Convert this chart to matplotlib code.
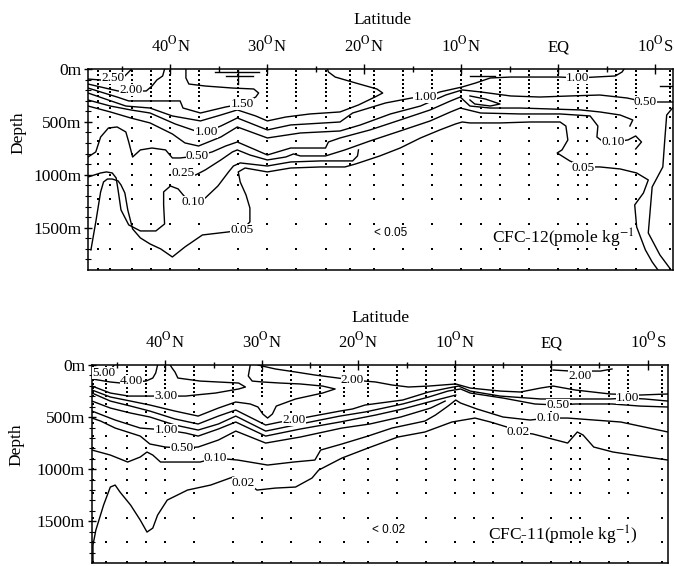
import matplotlib
matplotlib.use('Agg')
import matplotlib.pyplot as plt

plt.rcParams['font.family'] = ['Liberation Serif', 'DejaVu Serif']
plt.rcParams['mathtext.fontset'] = 'stix'

# osie: szerokosc geograficzna (N dodatnie) i glebokosc w metrach
lat_ticks = [40, 30, 20, 10, 0, -10]
lat_labels = [r'40$^{\rm O}$N', r'30$^{\rm O}$N', r'20$^{\rm O}$N', r'10$^{\rm O}$N', 'EQ', r'10$^{\rm O}$S']
lat_minor = [45, 35, 25, 15, 5, -5]
depth_ticks = [0, 500, 1000, 1500]
depth_labels = ['0m', '500m', '1000m', '1500m']

# stacje i glebokosci probek
station_lat = [47.5, 46.2, 44.0, 42.0, 40.0, 37.0, 33.0, 30.0, 27.0, 24.0, 21.5, 19.0,
               16.0, 13.0, 10.0, 8.0, 6.0, 3.0, 0.0, -2.0, -3.0, -6.0, -8.0, -11.5]
sample_depth = [20, 60, 100, 140, 180, 220, 260, 300, 370, 450, 560, 680, 800,
                900, 1000, 1100, 1230, 1470, 1700, 1890]

# ---- CFC-12 (gorny panel): izolinie ----
c12_250_lat = [48.5, 47.2, 45.9, 44.7, 44.0]
c12_250_dep = [95, 104, 95, 66, 0]
c12_200_lat = [48.5, 47.2, 45.4, 44.1, 42.5, 41.9, 41.4, 40.8, 40.6]
c12_200_dep = [142, 170, 208, 208, 208, 161, 104, 66, 0]
c12_150_lat = [48.5, 47.2, 45.5, 44.3, 39.0, 38.7, 36.9, 34.3, 32.6, 31.2, 30.9, 31.4, 33.6, 36.4, 38.1, 38.4, 38.4]
c12_150_dep = [180, 217, 265, 302, 302, 369, 416, 359, 331, 265, 227, 189, 180, 161, 142, 85, 0]
c12_125_lat = [48.5, 46.7, 44.6, 42.1, 39.8, 36.9, 34.8, 33.1, 31.2, 30.0, 28.1, 25.6, 22.5, 20.6, 18.9, 18.1, 18.7, 20.9, 23.0, 23.7, 23.8]
c12_125_dep = [227, 284, 350, 369, 444, 491, 435, 387, 444, 491, 454, 425, 406, 340, 265, 227, 189, 132, 76, 28, 0]
c12_100_lat = [48.5, 46.2, 44.1, 42.1, 39.5, 37.4, 36.3, 34.8, 33.1, 30.0, 27.6, 22.5, 21.2, 17.8, 15.1, 13.7,
               12.2, 9.9, 8.5, 7.0, 4.9, 1.9, -0.2, -2.0, -3.8, -5.9, -6.6, -6.8]
c12_100_dep = [293, 350, 387, 416, 520, 586, 595, 539, 463, 576, 529, 501, 416, 321, 274, 265,
               217, 170, 132, 85, 76, 76, 76, 85, 76, 66, 28, 0]
c12_075_lat = [48.5, 46.2, 44.1, 42.1, 39.8, 38.5, 37.1, 34.8, 33.1, 30.0, 26.6, 22.5, 20.4, 17.3, 14.2, 11.6,
               9.9, 8.0, 4.9, 1.9, -1.2, -4.3, -7.1, -9.0, -11.8]
c12_075_dep = [350, 406, 463, 510, 614, 699, 728, 643, 548, 652, 605, 586, 529, 425, 350, 246,
               198, 217, 255, 265, 255, 246, 274, 312, 312]
c12_tongue_lat = [9.1, 7.5, 6.0, 7.0, 8.6, 9.1]
c12_tongue_dep = [255, 284, 331, 350, 331, 293]
c12_050_lat = [48.5, 47.7, 47.2, 46.4, 45.5, 44.6, 44.3, 43.9, 43.1, 41.9, 40.5, 39.8, 39.0, 37.2, 35.7, 34.3,
               33.1, 31.2, 30.0, 27.6, 24.0, 23.7, 22.5, 19.4, 16.3, 13.2, 11.1, 10.1, 9.1, 7.0, 3.9, 0.8,
               -2.3, -4.3, -6.4, -7.7, -7.4]
c12_050_dep = [832, 784, 643, 558, 548, 595, 690, 832, 765, 747, 765, 841, 841, 822, 784, 728,
               690, 765, 813, 747, 747, 690, 652, 576, 482, 387, 302, 265, 350, 369, 369, 378,
               387, 406, 435, 482, 539]
c12_025_lat = [39.7, 38.7, 37.4, 36.4, 34.8, 33.6, 33.1, 31.8, 30.0, 28.1, 27.3, 26.6, 24.0, 22.0, 19.4, 16.3,
               13.2, 11.1, 10.1, 8.0, 3.9, -0.2, -3.3, -4.1, -4.0, -4.8, -5.7, -7.2, -8.0, -8.6, -8.0]
c12_025_dep = [973, 983, 1002, 954, 860, 784, 765, 813, 860, 832, 803, 822, 822, 765, 680, 586,
               491, 406, 369, 416, 425, 425, 444, 539, 643, 699, 690, 671, 633, 690, 756]
c12_010_lat = [48.5, 47.2, 46.6, 46.0, 45.6, 45.4, 45.1, 44.3, 43.1, 41.5, 40.6, 40.7, 40.7, 40.0, 39.2, 38.6,
               37.7, 36.4, 35.1, 34.0, 33.5, 32.8, 30.0, 27.6, 24.5, 22.5, 21.2, 20.7, 20.6]
c12_010_dep = [1021, 983, 973, 983, 1030, 1143, 1332, 1474, 1531, 1531, 1465, 1285, 1162, 1106, 1134, 1200,
               1257, 1219, 1106, 973, 917, 888, 917, 879, 869, 869, 869, 822, 765]
c12_005_lat = [48.2, 47.7, 47.2, 46.9, 46.5, 46.0, 45.4, 45.1, 44.7, 44.4, 43.9, 43.1, 42.1, 41.0, 39.8, 38.5,
               36.7, 34.0, 32.6, 31.8, 31.8, 32.2, 32.8, 33.0, 32.3, 30.0, 27.6, 24.5, 22.0, 20.9, 18.4, 16.3,
               14.2, 12.2, 10.6, 9.9, 9.1, 6.0, 2.9, -0.2, -0.8, -1.0, -0.4, 0.1, -1.2, -2.6,
               -4.3, -6.4, -8.1, -9.3, -8.8, -7.9, -8.1, -9.0, -9.7, -10.3]
c12_005_dep = [1710, 1446, 1162, 1068, 1040, 1040, 1058, 1096, 1172, 1332, 1512, 1597, 1654, 1701, 1777, 1682,
               1569, 1540, 1521, 1446, 1314, 1191, 1068, 973, 936, 973, 936, 926, 926, 898, 822, 747,
               652, 576, 520, 501, 510, 510, 501, 501, 539, 671, 765, 794, 869, 926,
               926, 945, 983, 1049, 1172, 1285, 1493, 1710, 1824, 1900]
c12_south_lat = [-11.8, -11.2, -11.0, -10.8, -9.7, -9.3, -10.5, -11.5]
c12_south_dep = [369, 435, 671, 926, 1115, 1550, 1758, 1881]
c12_edge_lat = [-10.5, -11.8]
c12_edge_dep = [161, 161]
c12_mark1_lat = [35.4, 30.9]
c12_mark1_dep = [28, 28]
c12_mark2_lat = [34.3, 31.5]
c12_mark2_dep = [66, 66]
c12_mark3_lat = [33.0, 33.0]
c12_mark3_dep = [9, 142]
c12_mark4_lat = [9.1, 6.5]
c12_mark4_dep = [66, 66]

c12_label_text = ['2.50', '2.00', '1.50', '1.00', '1.00', '1.00', '0.50', '0.50', '0.25', '0.10', '0.10', '0.05', '0.05']
c12_label_lat = [45.9, 44.1, 32.6, 36.3, 13.7, -2.0, 37.2, -9.0, 38.7, 37.7, -5.7, 32.6, -2.6]
c12_label_dep = [85, 200, 331, 595, 265, 85, 822, 312, 983, 1257, 690, 1521, 936]

# ---- CFC-11 (dolny panel) ----
c11_500_lat = [47.6, 47.0, 46.4, 45.7, 45.3]
c11_500_dep = [77, 86, 77, 48, 0]
c11_400_lat = [47.6, 45.7, 44.6, 43.5, 42.0, 41.3, 41.0, 40.8]
c11_400_dep = [134, 163, 173, 163, 154, 125, 77, 0]
c11_300_lat = [47.6, 45.7, 43.8, 39.9, 37.9, 36.9, 34.8, 32.4, 31.7, 32.4, 36.4, 38.7, 39.0, 39.3, 39.5]
c11_300_dep = [202, 269, 298, 298, 298, 288, 269, 230, 211, 173, 154, 125, 67, 29, 0]
c11_lobe_lat = [47.6, 45.7, 43.6, 41.6, 39.0, 36.6, 34.5, 32.7, 31.2, 30.4, 29.9, 29.4, 28.9, 28.5, 26.5, 23.7,
                22.4, 23.7, 26.0, 28.1, 29.9, 31.0, 31.4, 31.2]
c11_lobe_dep = [240, 307, 346, 384, 442, 490, 413, 355, 374, 403, 470, 509, 470, 394, 326, 269,
                230, 202, 182, 173, 163, 154, 106, 0]
c11_200a_lat = [30.4, 28.6, 26.5, 24.5, 22.1, 20.6, 18.2, 16.5, 14.8, 12.7, 9.9, 8.4, 5.3, 3.2, 1.1, -0.2,
                -2.5, -6.1, -9.2, -12.1]
c11_200a_dep = [0, 38, 67, 96, 125, 144, 163, 192, 211, 202, 182, 221, 250, 259, 221, 202,
                240, 278, 288, 278]
c11_200b_lat = [47.6, 45.7, 43.6, 41.6, 39.0, 36.6, 34.5, 32.7, 29.6, 28.1, 26.7, 25.2, 21.9, 20.6, 19.3, 15.4,
                12.7, 10.7, 9.6, 8.4, 5.3, 1.1, -2.5, -6.1, -7.9, -9.7, -12.1]
c11_200b_dep = [269, 346, 394, 442, 518, 566, 490, 432, 576, 547, 528, 499, 442, 422, 384, 336,
                259, 221, 202, 250, 298, 326, 326, 326, 317, 326, 346]
c11_150_lat = [47.6, 45.7, 43.6, 41.6, 39.0, 36.6, 34.5, 32.7, 29.6, 26.0, 21.9, 19.3, 15.4, 12.7, 10.7, 9.4,
               8.4, 5.0, 1.7, -0.7, -2.5, -6.3, -9.2, -12.1]
c11_150_dep = [346, 413, 461, 499, 576, 624, 566, 490, 634, 566, 490, 451, 374, 307, 250, 230,
               269, 317, 374, 384, 374, 374, 394, 403]
c11_100_lat = [47.6, 45.2, 42.6, 39.9, 37.9, 36.6, 34.5, 32.7, 29.6, 26.0, 21.9, 20.3, 18.2, 15.4, 12.7, 9.9]
c11_100_dep = [442, 528, 605, 624, 653, 682, 614, 547, 682, 614, 547, 518, 480, 422, 355, 288]
c11_050_lat = [47.6, 46.7, 45.2, 42.6, 41.6, 40.0, 38.3, 36.6, 34.5, 32.7, 29.6, 26.0, 21.7, 18.8, 15.6, 12.5, 11.0]
c11_050_dep = [509, 538, 605, 682, 758, 787, 797, 787, 720, 634, 749, 691, 605, 566, 499, 413, 346]
c11_010_lat = [47.6, 45.7, 43.9, 42.6, 41.9, 41.3, 40.5, 36.4, 34.8, 32.5, 29.4, 26.7, 24.5, 23.9, 21.7, 19.0,
               16.5, 13.1, 12.0, 10.7, 9.9, 9.4, 7.7, 5.0, 2.2, 0.3, -1.7, -7.2, -12.1]
c11_010_dep = [816, 864, 931, 883, 835, 864, 931, 931, 893, 912, 960, 931, 912, 816, 758, 682,
               605, 538, 480, 394, 336, 365, 422, 499, 528, 509, 509, 547, 643]
c11_002_lat = [47.5, 47.5, 47.2, 46.4, 45.7, 45.2, 44.7, 43.6, 42.6, 41.9, 41.3, 40.8, 39.8, 37.7, 35.3, 33.0,
               31.9, 30.5, 28.6, 26.5, 24.8, 24.1, 21.7, 19.0, 15.9, 13.1, 10.3, 7.9, 6.3, 4.6, 3.4, 1.9,
               -1.7, -2.7, -3.3, -4.4, -6.4, -9.2, -12.1]
c11_002_dep = [1900, 1728, 1584, 1344, 1171, 1152, 1219, 1344, 1488, 1603, 1565, 1440, 1296, 1200, 1152, 1075,
               1104, 1200, 1181, 1171, 1085, 1008, 893, 797, 691, 643, 547, 509, 547, 595, 643, 662,
               749, 643, 672, 787, 835, 874, 912]
c11_eq_lat = [-0.2, -2.0, -5.1, -6.3]
c11_eq_dep = [48, 58, 58, 38]

c11_label_text = ['5.00', '4.00', '3.00', '2.00', '2.00', '1.00', '0.50', '0.10', '0.02', '2.00', '0.50', '1.00', '0.10', '0.02']
c11_label_lat = [46.4, 43.5, 39.9, 26.7, 20.6, 39.9, 38.3, 34.8, 31.9, -3.0, -0.7, -7.9, 0.3, 3.4]
c11_label_dep = [77, 154, 298, 528, 144, 624, 797, 893, 1133, 110, 384, 317, 509, 643]

c12_lines = [(c12_250_lat, c12_250_dep), (c12_200_lat, c12_200_dep), (c12_150_lat, c12_150_dep),
             (c12_125_lat, c12_125_dep), (c12_100_lat, c12_100_dep), (c12_075_lat, c12_075_dep),
             (c12_tongue_lat, c12_tongue_dep), (c12_050_lat, c12_050_dep), (c12_025_lat, c12_025_dep),
             (c12_010_lat, c12_010_dep), (c12_005_lat, c12_005_dep), (c12_south_lat, c12_south_dep),
             (c12_edge_lat, c12_edge_dep), (c12_mark1_lat, c12_mark1_dep), (c12_mark2_lat, c12_mark2_dep),
             (c12_mark3_lat, c12_mark3_dep), (c12_mark4_lat, c12_mark4_dep)]
c11_lines = [(c11_500_lat, c11_500_dep), (c11_400_lat, c11_400_dep), (c11_300_lat, c11_300_dep),
             (c11_lobe_lat, c11_lobe_dep), (c11_200a_lat, c11_200a_dep), (c11_200b_lat, c11_200b_dep),
             (c11_150_lat, c11_150_dep), (c11_100_lat, c11_100_dep), (c11_050_lat, c11_050_dep),
             (c11_010_lat, c11_010_dep), (c11_002_lat, c11_002_dep), (c11_eq_lat, c11_eq_dep)]

fig = plt.figure(figsize=(6.74, 5.66), dpi=100)
ax1 = fig.add_axes([0.1306, 0.523, 0.8672, 0.3551])
ax2 = fig.add_axes([0.1365, 0.0053, 0.8546, 0.3498])


def panel(ax, lines, ltext, llat, ldep, xlim):
    # punkty pomiarowe
    for s in station_lat:
        ax.plot([s] * len(sample_depth), sample_depth, 's', color='black', ms=1.6, mew=0)
    for la, de in lines:
        ax.plot(la, de, color='black', lw=1.0, solid_joinstyle='round')
    for t, la, de in zip(ltext, llat, ldep):
        ax.text(la, de, t, ha='center', va='center', fontsize=9.5,
                bbox=dict(facecolor='white', edgecolor='none', pad=0.2))
    ax.set_xlim(xlim)
    ax.set_ylim(1900, 0)
    ax.xaxis.tick_top()
    ax.set_xticks(lat_ticks, lat_labels)
    ax.set_xticks(lat_minor, minor=True)
    ax.set_yticks(depth_ticks, depth_labels)
    ax.set_yticks(range(100, 1900, 100), minor=True)
    ax.tick_params(axis='x', which='major', direction='inout', length=7, width=1, pad=6, labelsize=12)
    ax.tick_params(axis='x', which='minor', direction='inout', length=4, width=1)
    ax.tick_params(axis='y', which='major', direction='inout', length=6, width=1, pad=2, labelsize=12.5)
    ax.tick_params(axis='y', which='minor', direction='inout', length=4, width=0.8)
    for sp in ax.spines.values():
        sp.set_linewidth(1.1)


panel(ax1, c12_lines, c12_label_text, c12_label_lat, c12_label_dep, (48.5, -11.8))
panel(ax2, c11_lines, c11_label_text, c11_label_lat, c11_label_dep, (47.6, -12.1))

ax1.text(17.3, 1550, '< 0.05', fontsize=8.5, family='Liberation Sans', ha='center', va='center')
ax1.text(-0.5, 1597, 'CFC-12(pmole kg$^{-1}$', fontsize=12.5, ha='center', va='center')
ax2.text(16.9, 1584, '< 0.02', fontsize=8.5, family='Liberation Sans', ha='center', va='center')
ax2.text(-1.2, 1632, 'CFC-11(pmole kg$^{-1}$)', fontsize=12.5, ha='center', va='center')

fig.text(0.567, 0.965, 'Latitude', fontsize=12.5, ha='center', va='center')
fig.text(0.564, 0.438, 'Latitude', fontsize=12.5, ha='center', va='center')
fig.text(0.027, 0.765, 'Depth', fontsize=12.5, rotation=90, ha='center', va='center')
fig.text(0.025, 0.214, 'Depth', fontsize=12.5, rotation=90, ha='center', va='center')

fig.savefig('out.png', dpi=100)
